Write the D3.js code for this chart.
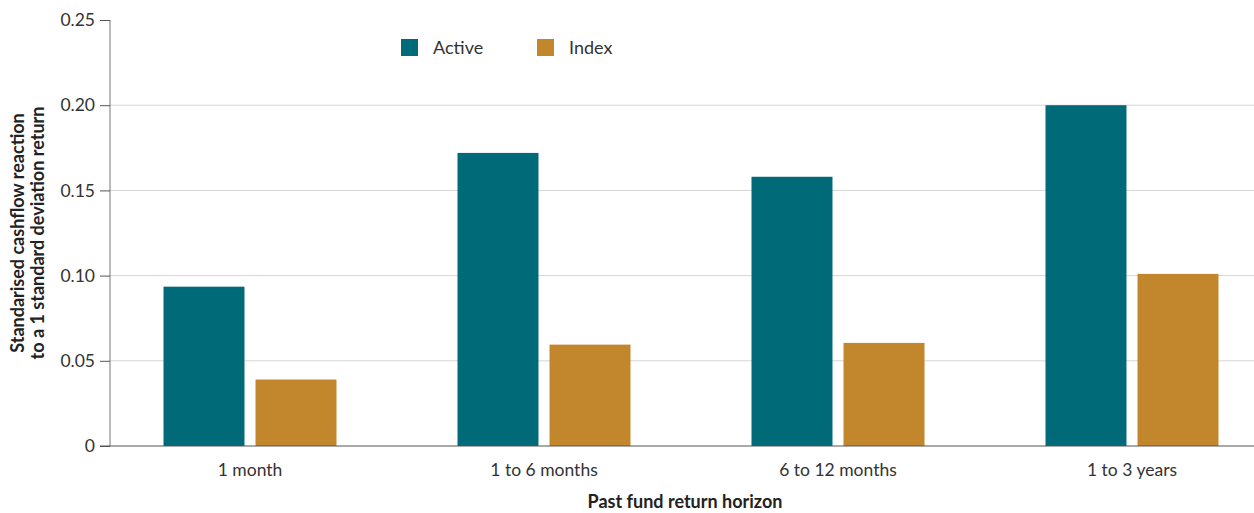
<!DOCTYPE html>
<html lang="en">
<head>
    <meta charset="utf-8">
    <title>Cashflow reaction by past return horizon</title>
    <style>
        body { margin: 0; background: #fff; }
        text { font-family: Lato, "Open Sans", sans-serif; fill: #333; }
        .tick text { font-size: 17.5px; }
        .title { font-weight: bold; font-size: 18px; fill: #222; }
    </style>
</head>
<body>
<script src="https://cdn.jsdelivr.net/npm/d3@7"></script>
<script>
    var horizons = ["1 month", "1 to 6 months", "6 to 12 months", "1 to 3 years"];
    var seriesNames = ["Active", "Index"];
    var activeValues = [0.0935, 0.172, 0.158, 0.200];
    var indexValues = [0.039, 0.0595, 0.0605, 0.101];
    var yTicks = [0, 0.05, 0.10, 0.15, 0.20, 0.25];
    var colors = ["#016a79", "#c2872d"];

    var width = 1254, height = 513;
    var plotLeft = 110, plotTop = 20, plotBottom = 446, plotRight = 1254;

    var svg = d3.select("body").append("svg")
        .attr("width", width)
        .attr("height", height);

    var y = d3.scaleLinear().domain([0, 0.25]).range([plotBottom, plotTop]);

    // groups are spaced a little wider than the plot, so the band range overhangs
    var x0 = d3.scaleBand().domain(horizons).range([103, 1279]).padding(0);
    var x1 = d3.scaleBand().domain(seriesNames).range([0, 173]).paddingInner(0.12);

    // gridlines
    svg.append("g")
        .selectAll("line")
        .data(yTicks.filter(function (d) { return d > 0 && d < 0.25; }))
        .enter()
        .append("line")
        .attr("x1", plotLeft)
        .attr("x2", plotRight)
        .attr("y1", function (d) { return y(d); })
        .attr("y2", function (d) { return y(d); })
        .attr("stroke", "#d4d4d4")
        .attr("stroke-width", 1);

    // bars
    var rows = horizons.map(function (h, i) {
        return {horizon: h, values: [activeValues[i], indexValues[i]]};
    });
    var groups = svg.selectAll(".group")
        .data(rows)
        .enter()
        .append("g")
        .attr("class", "group")
        .attr("transform", function (d) {
            return "translate(" + (x0(d.horizon) + (x0.bandwidth() - 173) / 2) + ",0)";
        });
    groups.selectAll("rect")
        .data(function (d) {
            return d.values.map(function (v, j) { return {name: seriesNames[j], value: v, idx: j}; });
        })
        .enter()
        .append("rect")
        .attr("x", function (d) { return x1(d.name); })
        .attr("width", x1.bandwidth())
        .attr("y", function (d) { return y(d.value); })
        .attr("height", function (d) { return plotBottom - y(d.value); })
        .attr("fill", function (d) { return colors[d.idx]; });

    // y axis
    var yAxis = svg.append("g")
        .attr("transform", "translate(" + plotLeft + ",0)")
        .call(d3.axisLeft(y).tickValues(yTicks).tickSize(10).tickPadding(5)
            .tickFormat(function (d) { return d === 0 ? "0" : d3.format(".2f")(d); }));
    yAxis.select(".domain").attr("stroke", "#777").attr("d", "M0," + plotTop + "V" + plotBottom);
    yAxis.selectAll(".tick line").attr("stroke", "#555");
    yAxis.selectAll(".tick text").attr("fill", "#333");

    // x axis baseline and labels
    var xAxis = svg.append("g")
        .attr("transform", "translate(0," + plotBottom + ")")
        .call(d3.axisBottom(x0).tickSize(0).tickPadding(18));
    xAxis.select(".domain").remove();
    xAxis.selectAll(".tick text").attr("fill", "#333");
    svg.append("line")
        .attr("x1", 100)
        .attr("x2", plotRight)
        .attr("y1", plotBottom)
        .attr("y2", plotBottom)
        .attr("stroke", "#555")
        .attr("stroke-width", 1.2);

    // axis titles
    svg.append("text")
        .attr("class", "title")
        .attr("x", 685)
        .attr("y", 508)
        .attr("text-anchor", "middle")
        .text("Past fund return horizon");

    var yTitle = svg.append("text")
        .attr("class", "title")
        .attr("transform", "translate(24,233) rotate(-90)")
        .attr("text-anchor", "middle");
    yTitle.append("tspan").attr("x", 0).attr("dy", 0).text("Standarised cashflow reaction");
    yTitle.append("tspan").attr("x", 0).attr("dy", 20).text("to a 1 standard deviation return");

    // legend
    var legend = svg.selectAll(".legend")
        .data(seriesNames)
        .enter()
        .append("g")
        .attr("class", "legend")
        .attr("transform", function (d, i) { return "translate(" + (401 + i * 136) + ",39)"; });
    legend.append("rect")
        .attr("width", 17)
        .attr("height", 17)
        .attr("fill", function (d, i) { return colors[i]; });
    legend.append("text")
        .attr("x", 32)
        .attr("y", 15)
        .style("font-size", "18px")
        .text(function (d) { return d; });
</script>
</body>
</html>
